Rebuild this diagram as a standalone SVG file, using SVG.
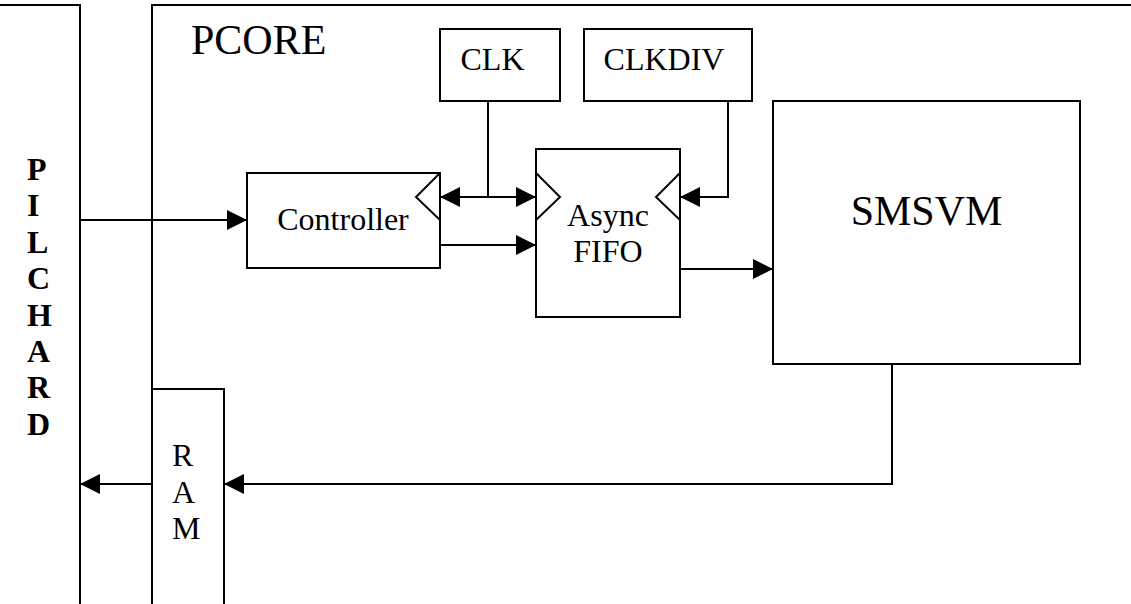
<svg xmlns="http://www.w3.org/2000/svg" width="1131" height="604" viewBox="0 0 1131 604">
<style>
.box{fill:none;stroke:#000;stroke-width:2}
.ln{fill:none;stroke:#000;stroke-width:2}
.t{font-family:"Liberation Serif","Times New Roman",serif;fill:#000}
.t32{font-size:32px}
.t42{font-size:42px}
.b{font-weight:bold}
</style>
<defs>
<marker id="ah" markerUnits="userSpaceOnUse" markerWidth="20" markerHeight="20" refX="20" refY="10" orient="auto-start-reverse">
<path d="M0,0 L20,10 L0,20 z" fill="#000"/>
</marker>
</defs>
<rect width="1131" height="604" fill="#fff"/>
<g id="pilchard">
<path class="box" d="M0,5 H80 V604"/>
<text class="t t32 b" x="27"><tspan x="27" y="180">P</tspan><tspan x="27" y="216.4">I</tspan><tspan x="27" y="252.8">L</tspan><tspan x="27" y="289.2">C</tspan><tspan x="27" y="325.6">H</tspan><tspan x="27" y="362">A</tspan><tspan x="27" y="398.4">R</tspan><tspan x="27" y="434.8">D</tspan></text>
</g>
<g id="pcore">
<path class="box" d="M1131,5 H152 V604"/>
<text class="t t42" x="191" y="54">PCORE</text>
</g>
<g id="clk">
<rect class="box" x="440" y="29" width="120" height="72"/>
<text class="t t32" x="492.5" y="70" text-anchor="middle">CLK</text>
</g>
<g id="clkdiv">
<rect class="box" x="584" y="29" width="168" height="72"/>
<text class="t t32" x="664" y="70" text-anchor="middle">CLKDIV</text>
</g>
<g id="controller">
<rect class="box" x="247" y="173" width="193" height="95"/>
<path class="ln" d="M440,173 L416,197 L440,220"/>
<text class="t t32" x="343" y="230" text-anchor="middle">Controller</text>
</g>
<g id="fifo">
<rect class="box" x="536" y="149" width="144" height="168"/>
<path class="ln" d="M536,173 L560,197 L536,220"/>
<path class="ln" d="M680,173 L656,197 L680,220"/>
<text class="t t32" x="608" y="226" text-anchor="middle">Async</text>
<text class="t t32" x="608" y="262" text-anchor="middle">FIFO</text>
</g>
<g id="smsvm">
<rect class="box" x="773" y="101" width="307" height="263"/>
<text class="t t42" x="926.5" y="225" text-anchor="middle">SMSVM</text>
</g>
<g id="ram">
<path class="box" d="M152,389 H224 V604"/>
<text class="t t32"><tspan x="172" y="466">R</tspan><tspan x="172" y="503">A</tspan><tspan x="172" y="539">M</tspan></text>
</g>
<g id="connectors">
<path class="ln" d="M80,220 H247" marker-end="url(#ah)"/>
<path class="ln" d="M488,101 V197"/>
<path class="ln" d="M440,197 H536" marker-start="url(#ah)" marker-end="url(#ah)"/>
<path class="ln" d="M728,101 V197 H680" marker-end="url(#ah)"/>
<path class="ln" d="M440,245 H536" marker-end="url(#ah)"/>
<path class="ln" d="M680,269 H773" marker-end="url(#ah)"/>
<path class="ln" d="M892,364 V484 H224" marker-end="url(#ah)"/>
<path class="ln" d="M152,484 H80" marker-end="url(#ah)"/>
</g>
</svg>
